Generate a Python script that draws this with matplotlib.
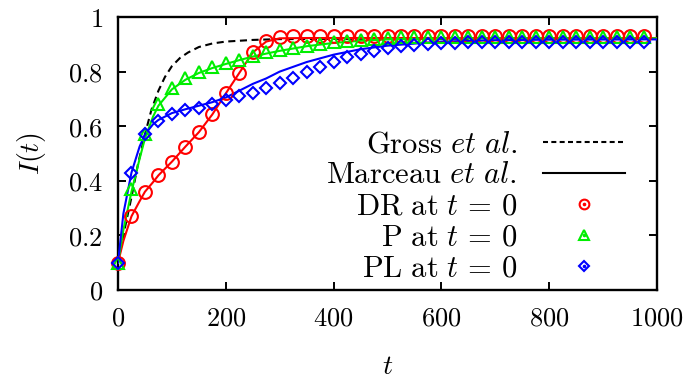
import matplotlib
matplotlib.use("Agg")
import matplotlib.pyplot as plt
from matplotlib.lines import Line2D
from matplotlib.legend_handler import HandlerTuple
from matplotlib.ticker import FuncFormatter

plt.rcParams['mathtext.fontset'] = 'cm'
plt.rcParams['font.family'] = ['DejaVu Serif']

# ---- data ----
t_pts = [0, 25, 50, 75, 100, 125, 150, 175, 200, 225, 250, 275, 300, 325, 350, 375,
         400, 425, 450, 475, 500, 525, 550, 575, 600, 625, 650, 675, 700, 725, 750,
         775, 800, 825, 850, 875, 900, 925, 950, 975]

dr_pts = [0.10, 0.27, 0.36, 0.42, 0.47, 0.525, 0.578, 0.643, 0.72, 0.795, 0.872, 0.912,
          0.928, 0.932, 0.932, 0.932, 0.932, 0.932, 0.932, 0.932, 0.932, 0.932, 0.932,
          0.932, 0.932, 0.932, 0.932, 0.932, 0.932, 0.932, 0.932, 0.932, 0.932, 0.932,
          0.932, 0.932, 0.932, 0.932, 0.932, 0.932]

p_pts = [0.10, 0.37, 0.57, 0.68, 0.74, 0.775, 0.80, 0.817, 0.832, 0.843, 0.858, 0.870,
         0.880, 0.888, 0.895, 0.902, 0.908, 0.913, 0.917, 0.920, 0.923, 0.925, 0.926,
         0.927, 0.927, 0.927, 0.927, 0.927, 0.927, 0.927, 0.927, 0.927, 0.927, 0.927,
         0.927, 0.927, 0.927, 0.927, 0.927, 0.927]

pl_pts = [0.10, 0.43, 0.57, 0.62, 0.643, 0.658, 0.668, 0.682, 0.695, 0.709, 0.723, 0.740,
          0.758, 0.776, 0.798, 0.817, 0.836, 0.853, 0.866, 0.876, 0.885, 0.893, 0.898,
          0.901, 0.904, 0.906, 0.907, 0.908, 0.908, 0.908, 0.908, 0.908, 0.908, 0.908,
          0.908, 0.908, 0.908, 0.908, 0.908, 0.908]

t_gross = [0, 12, 25, 37, 50, 62, 75, 87, 100, 115, 130, 150, 175, 200, 250, 300, 400, 600, 1000]
gross = [0.10, 0.22, 0.34, 0.46, 0.57, 0.66, 0.73, 0.78, 0.82, 0.85, 0.87, 0.89, 0.903,
         0.91, 0.916, 0.919, 0.92, 0.92, 0.92]

t_line = [0, 10, 25, 40, 50, 65, 75, 100, 125, 150, 175, 200, 225, 250, 275, 300, 350,
          400, 450, 500, 600, 700, 800, 1000]
dr_line = [0.10, 0.18, 0.27, 0.325, 0.36, 0.395, 0.42, 0.47, 0.525, 0.578, 0.643, 0.72,
           0.795, 0.87, 0.91, 0.922, 0.923, 0.923, 0.923, 0.923, 0.923, 0.923, 0.923, 0.923]
p_line = [0.10, 0.22, 0.36, 0.48, 0.555, 0.635, 0.675, 0.735, 0.77, 0.795, 0.813, 0.828,
          0.842, 0.855, 0.866, 0.876, 0.893, 0.905, 0.913, 0.918, 0.921, 0.922, 0.922, 0.922]
pl_line = [0.10, 0.28, 0.43, 0.525, 0.57, 0.607, 0.623, 0.648, 0.662, 0.675, 0.688, 0.705,
           0.73, 0.755, 0.775, 0.80, 0.835, 0.862, 0.882, 0.895, 0.91, 0.915, 0.917, 0.918]

xticks = [0, 200, 400, 600, 800, 1000]
yticks = [0, 0.2, 0.4, 0.6, 0.8, 1]

labels = [r'$\mathrm{Gross}\ \mathit{et\ al.}$',
          r'$\mathrm{Marceau}\ \mathit{et\ al.}$',
          r'$\mathrm{DR\ at}\ t\,=\,0$',
          r'$\mathrm{P\ at}\ t\,=\,0$',
          r'$\mathrm{PL\ at}\ t\,=\,0$']

RED, GREEN, BLUE = '#ff0000', '#00ee00', '#0000ff'
FS = 19
LFS = 22

fig = plt.figure(figsize=(6.89, 3.79), dpi=100)
ax = fig.add_axes([118/689, 1-290/379, (657-118)/689, (290-17)/379])

lw = 1.5
ax.plot(t_gross, gross, color='black', lw=lw, linestyle=(0, (3.4, 2.2)), zorder=3)
ax.plot(t_line, dr_line, color=RED, lw=lw, zorder=3)
ax.plot(t_line, p_line, color=GREEN, lw=lw, zorder=3)
ax.plot(t_line, pl_line, color=BLUE, lw=lw, zorder=3)

mew = 1.5
ax.plot(t_pts, dr_pts, 'o', ms=9.2, mfc='none', mec=RED, mew=mew, clip_on=False, zorder=4)
ax.plot(t_pts, p_pts, '^', ms=9.2, mfc='none', mec=GREEN, mew=mew, clip_on=False, zorder=4)
ax.plot(t_pts, pl_pts, 'D', ms=6.5, mfc='none', mec=BLUE, mew=mew, clip_on=False, zorder=4)

ax.set_xlim(0, 1000)
ax.set_ylim(0, 1)
ax.set_xticks(xticks)
ax.set_yticks(yticks)
fmt = FuncFormatter(lambda v, p: f'${v:g}$')
ax.xaxis.set_major_formatter(fmt)
ax.yaxis.set_major_formatter(fmt)
ax.tick_params(direction='in', length=6, width=1.4, top=True, right=True,
               labelsize=FS)
ax.tick_params(axis='x', pad=11)
ax.tick_params(axis='y', pad=11)
for s in ax.spines.values():
    s.set_linewidth(1.7)

ax.set_xlabel(r'$t$', fontsize=20, labelpad=16)
ax.set_ylabel(r'$I(t)$', fontsize=20, labelpad=14)

# legend handles
h_gross = Line2D([], [], color='black', lw=lw, linestyle=(0, (2.4, 1.6)))
h_marc = Line2D([], [], color='black', lw=lw)
def mk(marker, color, ms):
    return (Line2D([], [], marker=marker, ms=ms, mfc='none', mec=color, mew=mew, ls='none'),
            Line2D([], [], marker='o', ms=1.6, mfc=color, mec=color, ls='none'))
h_dr = mk('o', RED, 7)
h_p = mk('^', GREEN, 7)
h_pl = mk('D', BLUE, 5)

leg = ax.legend([h_gross, h_marc, h_dr, h_p, h_pl], labels,
                handler_map={tuple: HandlerTuple(ndivide=1, pad=0)},
                loc='lower right', bbox_to_anchor=(0.941, 0.024), frameon=False,
                markerfirst=False, fontsize=LFS, handlelength=2.68, handletextpad=0.85,
                labelspacing=0.0, numpoints=1, borderpad=0, borderaxespad=0)

fig.savefig('out.png', dpi=100)
